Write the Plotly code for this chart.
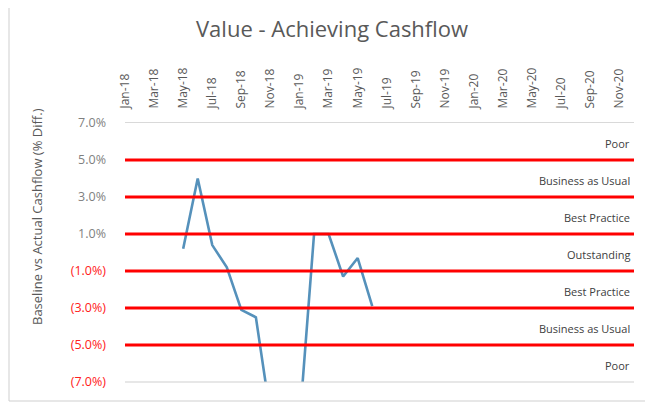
import plotly.graph_objects as go

# ---- data ----
months = [f"{m}-{y}" for y in ["18", "19", "20"]
          for m in ["Jan", "Feb", "Mar", "Apr", "May", "Jun",
                    "Jul", "Aug", "Sep", "Oct", "Nov", "Dec"]]
cashflow_diff = [None, None, None, None, 0.2, 4.0, 0.4, -0.8, -3.1, -3.5,
                 -8.8, -9.5, -9.2, 1.0, 1.0, -1.3, -0.3, -2.9] + [None] * 18
tick_months = months[::2]
y_ticks = [7, 5, 3, 1, -1, -3, -5, -7]
threshold_levels = [5, 3, 1, -1, -3, -5]
zone_labels = ["Poor", "Business as Usual", "Best Practice", "Outstanding",
               "Best Practice", "Business as Usual", "Poor"]
zone_centres = [6, 4, 2, 0, -2, -4, -6]


def fmt(v):
    if v >= 0:
        return f"{v:.1f}%"
    return f"<span style='color:#FF2020'>({abs(v):.1f}%)</span>"


# the page body adds an 8px offset; work in screen pixels and compensate
OFF = 8
W, H = 653 - OFF, 405 - OFF
L, R, T, B = 125 - OFF, 634 - OFF, 123 - OFF, 382 - OFF


def px_x(p):
    return (p - OFF - L) / (R - L)


def px_y(p):
    return (B - (p - OFF)) / (B - T)


fig = go.Figure()
fig.add_trace(go.Scatter(
    x=months, y=cashflow_diff, mode="lines",
    line=dict(color="#5591BB", width=2.6),
    connectgaps=False, hoverinfo="skip", showlegend=False,
))

shapes = []
for lv in threshold_levels:
    shapes.append(dict(type="line", xref="paper", x0=0, x1=1, yref="y",
                       y0=lv, y1=lv, line=dict(color="#FF0000", width=3.2)))
# bottom axis line
shapes.append(dict(type="line", xref="paper", x0=0, x1=1, yref="paper",
                   y0=0, y1=0, line=dict(color="#CFCFCF", width=1)))
# chart border
shapes.append(dict(type="rect", xref="paper", yref="paper",
                   x0=px_x(9), x1=px_x(648), y0=px_y(401), y1=px_y(1),
                   line=dict(color="#CFCFCF", width=1)))
fig.update_layout(shapes=shapes)

annotations = []
for txt, yc in zip(zone_labels, zone_centres):
    annotations.append(dict(text=txt, xref="paper", x=px_x(632), xanchor="right",
                            yref="y", y=yc - 0.1, yanchor="middle",
                            showarrow=False,
                            font=dict(family="Open Sans", size=11, color="#404040")))
annotations.append(dict(text="Baseline vs Actual Cashflow (% Diff.)",
                        xref="paper", x=px_x(37), yref="paper", y=px_y(217),
                        xanchor="center", yanchor="middle", textangle=-90,
                        showarrow=False,
                        font=dict(family="Open Sans", size=13, color="#595959")))
annotations.append(dict(text="Value - Achieving Cashflow",
                        xref="paper", x=px_x(332), yref="paper", y=px_y(28),
                        xanchor="center", yanchor="middle", showarrow=False,
                        font=dict(family="Open Sans", size=22, color="#595959")))
fig.update_layout(annotations=annotations)

fig.update_layout(
    width=W, height=H,
    margin=dict(l=L, r=W - R, t=T, b=H - B),
    paper_bgcolor="white", plot_bgcolor="white",
    font=dict(family="Open Sans", color="#595959"),
    xaxis=dict(type="category", categoryorder="array", categoryarray=months,
               range=[0, len(months) - 1], side="top",
               tickmode="array", tickvals=tick_months, ticktext=tick_months,
               tickangle=-90, tickfont=dict(size=12, color="#595959"),
               showgrid=False, zeroline=False, showline=True,
               linecolor="#D9D9D9", linewidth=1, ticks="",
               ticklabelstandoff=11),
    yaxis=dict(range=[-7, 7], tickmode="array", tickvals=y_ticks,
               ticktext=[fmt(v) for v in y_ticks],
               tickfont=dict(size=12.5, color="#7F7F7F"),
               showgrid=False, zeroline=False, showline=False, ticks="",
               ticklabelstandoff=18),
)

fig.write_html("out.html")
